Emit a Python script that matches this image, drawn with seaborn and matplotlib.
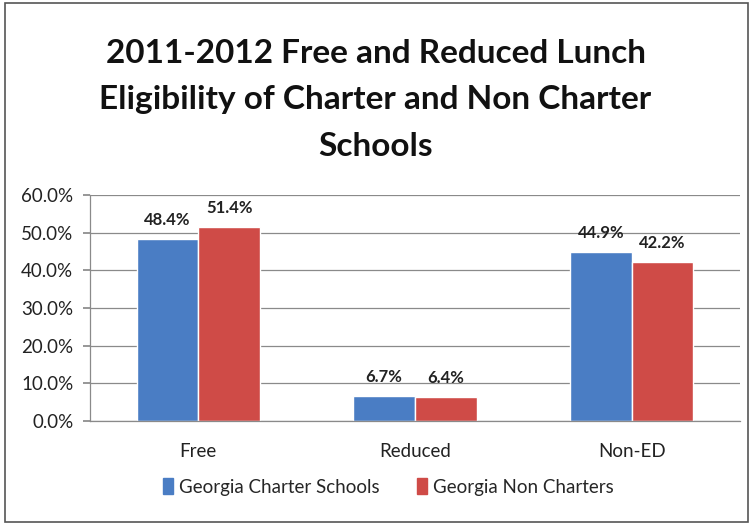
import matplotlib
matplotlib.use("Agg")
import matplotlib.pyplot as plt
import matplotlib.patches as mpatches
import seaborn as sns
import pandas as pd
from matplotlib.ticker import FuncFormatter

categories = ["Free", "Reduced", "Non-ED"]
charter = [48.4, 6.7, 44.9]
non_charter = [51.4, 6.4, 42.2]
series_names = ["Georgia Charter Schools", "Georgia Non Charters"]
title = "2011-2012 Free and Reduced Lunch\nEligibility of Charter and Non Charter\nSchools"

df = pd.DataFrame({
    "category": categories * 2,
    "value": charter + non_charter,
    "series": [series_names[0]] * 3 + [series_names[1]] * 3,
})

sns.set_theme(style="white")
plt.rcParams["font.family"] = ["Lato", "DejaVu Sans"]

fig = plt.figure(figsize=(7.51, 5.27), dpi=100)
ax = fig.add_axes([90 / 751, 1 - 421 / 527, 650 / 751, 226 / 527])

palette = {series_names[0]: "#4A7DC4", series_names[1]: "#CF4B47"}
sns.barplot(data=df, x="category", y="value", hue="series", palette=palette,
            width=0.57, saturation=1, ax=ax, legend=False)

ax.set_ylim(0, 60)
ax.set_yticks(range(0, 61, 10))
ax.yaxis.set_major_formatter(FuncFormatter(lambda v, p: f"{v:.1f}%"))
ax.grid(axis="y", color="#8a8a8a", linewidth=0.9)
ax.set_axisbelow(True)
ax.set_xlabel("")
ax.set_ylabel("")
for side in ["top", "right"]:
    ax.spines[side].set_visible(False)
for side in ["left", "bottom"]:
    ax.spines[side].set_color("#8a8a8a")
    ax.spines[side].set_linewidth(0.9)
ax.tick_params(axis="y", which="major", left=True, length=5, color="#8a8a8a",
               labelsize=13.5, labelcolor="#222222", pad=7)
ax.tick_params(axis="x", length=0, labelsize=13.5, labelcolor="#222222", pad=16)

for cont in ax.containers:
    ax.bar_label(cont, labels=[f"{v:.1f}%" for v in cont.datavalues],
                 padding=8, fontsize=12, fontweight="bold", color="#222222")

fig.text(0.5, 1 - 100 / 527, title, ha="center", va="center",
         fontsize=24, fontweight="bold", color="#111111", linespacing=1.72)

handles = [mpatches.Patch(color=palette[n], label=n) for n in series_names]
fig.legend(handles=handles, loc="center", bbox_to_anchor=(388 / 751, 1 - 487 / 527),
           ncol=2, frameon=False, fontsize=13.5, handlelength=0.55,
           handleheight=0.9, handletextpad=0.3, columnspacing=2.0)

fig.add_artist(mpatches.Rectangle((5 / 751, 5 / 527), 743 / 751, 519 / 527,
                                  transform=fig.transFigure, fill=False,
                                  edgecolor="#555555", linewidth=1.2))

fig.savefig("out.png", dpi=100, facecolor="white")
